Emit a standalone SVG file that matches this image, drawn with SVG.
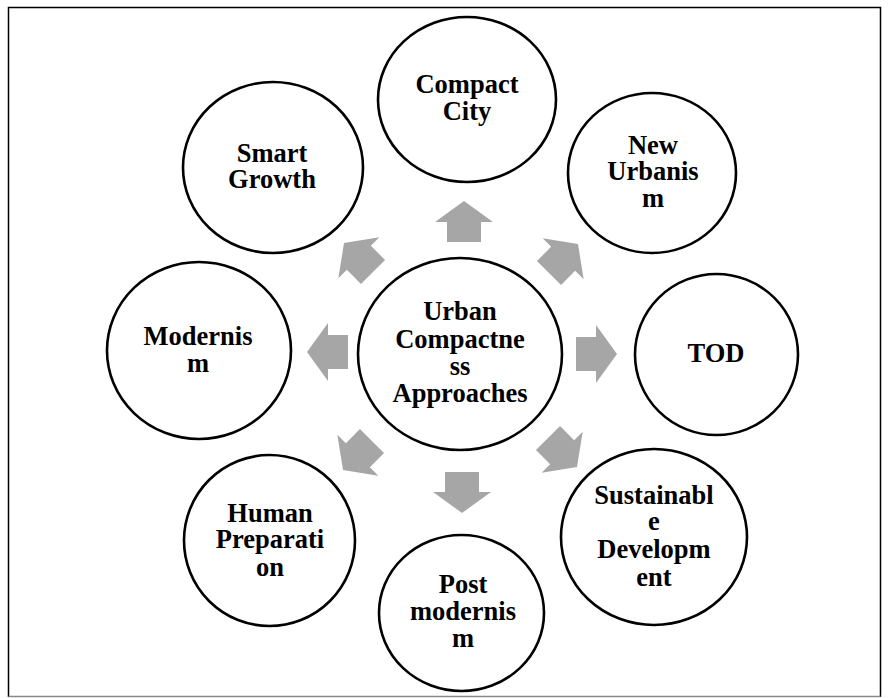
<svg xmlns="http://www.w3.org/2000/svg" width="889" height="698" viewBox="0 0 889 698">
<defs>
<style>
.node{fill:#fff;stroke:#000;stroke-width:2.6}
.lbl{font-family:"Liberation Serif","Times New Roman",serif;font-weight:bold;font-size:26.5px;fill:#000;text-anchor:middle}
.arr{fill:#a6a6a6}
</style>
<path id="blk" d="M0,0 L29,21 L17,21 L17,41 L-17,41 L-17,21 L-29,21 Z"/>
</defs>
<rect x="0" y="0" width="889" height="698" fill="#fff"/>
<g id="frame">
<path d="M8.5,697 L8.5,7.5 L880.5,7.5 L880.5,697" fill="none" stroke="#000" stroke-width="1.5"/>
<path d="M8.5,696.5 L880.5,696.5" fill="none" stroke="#888" stroke-width="1.5"/>
</g>
<g id="connectors" class="arr">
<use href="#blk" transform="translate(464,201)"/>
<use href="#blk" transform="translate(578,244) rotate(45)"/>
<use href="#blk" transform="translate(617,354) rotate(90)"/>
<use href="#blk" transform="translate(577,467) rotate(135)"/>
<use href="#blk" transform="translate(462,513) rotate(180)"/>
<use href="#blk" transform="translate(343,470) rotate(225)"/>
<use href="#blk" transform="translate(307,352) rotate(270)"/>
<use href="#blk" transform="translate(344,243) rotate(315)"/>
</g>
<g id="center">
<ellipse class="node" cx="460" cy="354" rx="102" ry="96"/>
<text class="lbl" x="460" y="320">Urban</text>
<text class="lbl" x="460" y="348">Compactne</text>
<text class="lbl" x="460" y="375">ss</text>
<text class="lbl" x="460" y="402">Approaches</text>
</g>
<g id="compact-city">
<ellipse class="node" cx="467" cy="99.5" rx="89" ry="82.5"/>
<text class="lbl" x="467" y="93">Compact</text>
<text class="lbl" x="467" y="120">City</text>
</g>
<g id="smart-growth">
<ellipse class="node" cx="273" cy="167.5" rx="90" ry="85.5"/>
<text class="lbl" x="272" y="162">Smart</text>
<text class="lbl" x="272" y="188">Growth</text>
</g>
<g id="new-urbanism">
<ellipse class="node" cx="652" cy="173" rx="84" ry="80"/>
<text class="lbl" x="653" y="154">New</text>
<text class="lbl" x="653" y="180">Urbanis</text>
<text class="lbl" x="653" y="207">m</text>
</g>
<g id="modernism">
<ellipse class="node" cx="199" cy="350.5" rx="92" ry="88.5"/>
<text class="lbl" x="198" y="345">Modernis</text>
<text class="lbl" x="198" y="372">m</text>
</g>
<g id="tod">
<ellipse class="node" cx="716.5" cy="354.5" rx="81.5" ry="80.5"/>
<text class="lbl" x="716" y="362">TOD</text>
</g>
<g id="human-preparation">
<ellipse class="node" cx="269.5" cy="540.5" rx="85.5" ry="85.5"/>
<text class="lbl" x="270" y="522">Human</text>
<text class="lbl" x="270" y="548">Preparati</text>
<text class="lbl" x="270" y="576">on</text>
</g>
<g id="post-modernism">
<ellipse class="node" cx="461.5" cy="613" rx="82.5" ry="78"/>
<text class="lbl" x="463" y="593">Post</text>
<text class="lbl" x="463" y="620">modernis</text>
<text class="lbl" x="463" y="647">m</text>
</g>
<g id="sustainable-development">
<ellipse class="node" cx="654" cy="537" rx="93" ry="88"/>
<text class="lbl" x="654" y="504">Sustainabl</text>
<text class="lbl" x="654" y="530">e</text>
<text class="lbl" x="654" y="558">Developm</text>
<text class="lbl" x="654" y="586">ent</text>
</g>
</svg>
